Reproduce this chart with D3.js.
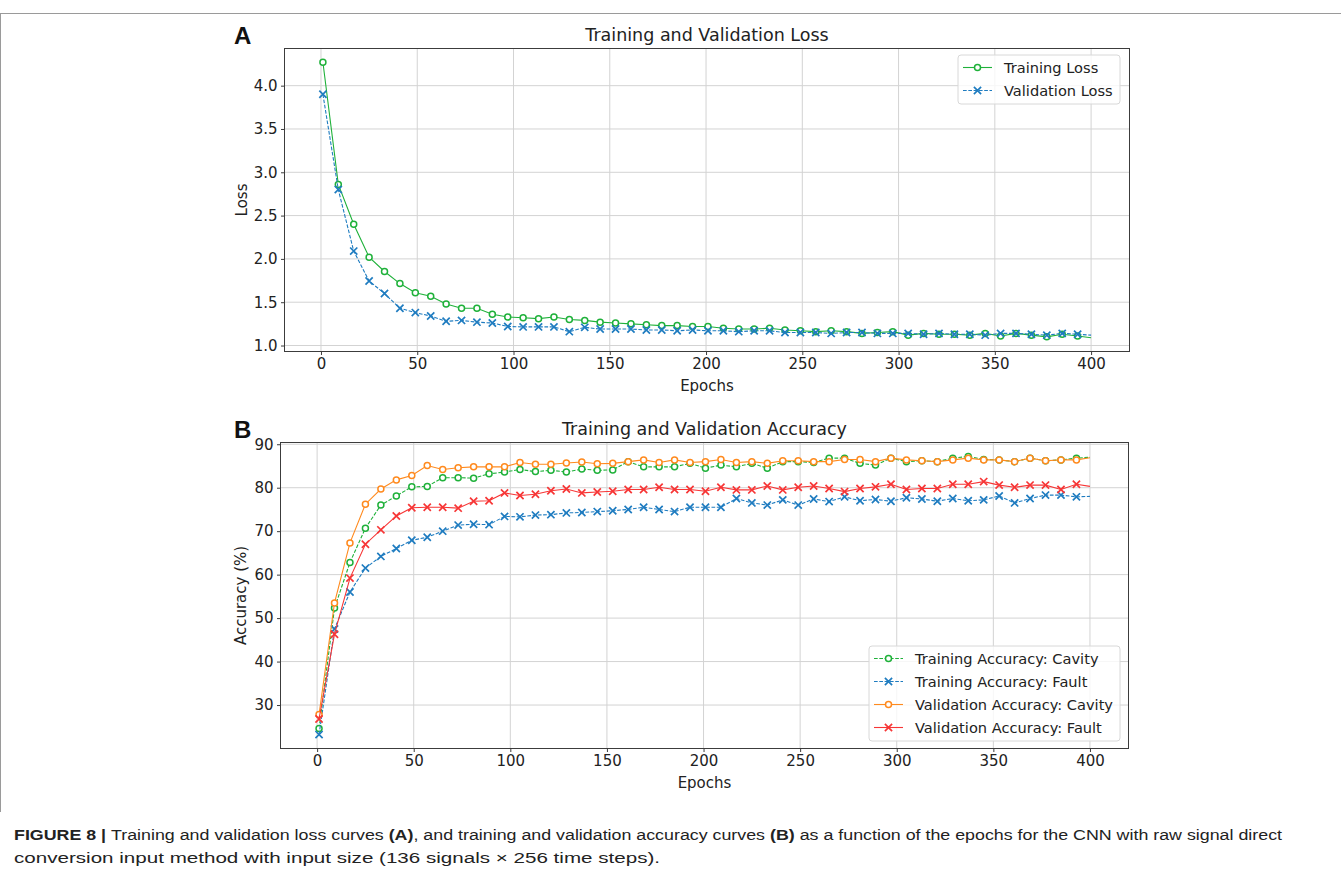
<!DOCTYPE html>
<html>
<head>
<meta charset="utf-8">
<script src="https://cdn.jsdelivr.net/npm/d3@7"></script>
<style>
  body { margin: 0; background: #fff; }
  svg { display: block; }
</style>
</head>
<body>
<svg id="fig" width="1341" height="872"></svg>
<script>
// epochs where values were read (markers every 8 epochs, plus the last epoch)
var epochs = d3.range(1, 394, 8).concat([400]);

// Panel A: loss
var trainLoss = [4.27, 2.86, 2.40, 2.02, 1.855, 1.715, 1.61, 1.57, 1.48, 1.43,
	1.43, 1.36, 1.33, 1.32, 1.31, 1.33, 1.30, 1.29, 1.27, 1.26,
	1.25, 1.24, 1.23, 1.23, 1.22, 1.22, 1.20, 1.19, 1.19, 1.20,
	1.18, 1.17, 1.16, 1.17, 1.16, 1.14, 1.15, 1.16, 1.12, 1.14,
	1.13, 1.13, 1.12, 1.14, 1.11, 1.14, 1.12, 1.10, 1.13, 1.11, 1.09];
var valLoss = [3.90, 2.80, 2.09, 1.745, 1.60, 1.43, 1.38, 1.34, 1.28, 1.29,
	1.27, 1.26, 1.22, 1.215, 1.215, 1.215, 1.16, 1.21, 1.19, 1.19,
	1.19, 1.18, 1.18, 1.17, 1.18, 1.17, 1.17, 1.16, 1.17, 1.17,
	1.15, 1.15, 1.15, 1.14, 1.15, 1.15, 1.14, 1.14, 1.14, 1.13,
	1.14, 1.13, 1.13, 1.12, 1.14, 1.14, 1.13, 1.12, 1.14, 1.13, 1.12];

// Panel B: accuracy (%)
var trainAccCavity = [24.6, 52.3, 62.8, 70.7, 76.0, 78.1, 80.2, 80.3, 82.3, 82.3,
	82.2, 83.2, 83.6, 84.2, 83.7, 84.0, 83.6, 84.3, 84.0, 84.1,
	86.0, 84.8, 84.8, 84.8, 85.6, 84.5, 85.2, 84.8, 85.6, 84.5,
	86.0, 86.0, 85.8, 86.8, 86.8, 85.6, 85.2, 86.8, 86.0, 86.2,
	86.0, 86.8, 87.2, 86.5, 86.4, 86.0, 86.8, 86.2, 86.4, 86.8, 87.0];
var trainAccFault = [23.2, 47.5, 56.0, 61.5, 64.2, 66.0, 67.9, 68.6, 70.0, 71.4,
	71.6, 71.5, 73.4, 73.3, 73.7, 73.8, 74.2, 74.3, 74.5, 74.7,
	75.0, 75.5, 75.0, 74.5, 75.5, 75.5, 75.5, 77.5, 76.5, 76.0,
	77.2, 76.0, 77.4, 76.8, 77.9, 77.0, 77.3, 76.9, 77.7, 77.4,
	76.9, 77.5, 77.0, 77.2, 78.1, 76.5, 77.5, 78.3, 78.3, 77.9, 78.0];
var valAccCavity = [27.8, 53.5, 67.3, 76.2, 79.7, 81.8, 82.8, 85.1, 84.2, 84.6,
	84.8, 84.8, 84.8, 85.8, 85.4, 85.4, 85.7, 85.9, 85.5, 85.6,
	86.0, 86.4, 85.8, 86.4, 85.8, 86.0, 86.5, 85.8, 86.0, 85.6,
	86.2, 86.2, 86.0, 86.0, 86.5, 86.5, 86.0, 86.8, 86.4, 86.2,
	86.0, 86.4, 86.8, 86.4, 86.4, 86.0, 86.8, 86.2, 86.4, 86.4, 86.9];
var valAccFault = [26.8, 46.3, 59.2, 67.0, 70.3, 73.5, 75.4, 75.5, 75.5, 75.3,
	76.9, 77.0, 78.8, 78.2, 78.5, 79.3, 79.7, 78.8, 79.0, 79.2,
	79.6, 79.6, 80.1, 79.6, 79.6, 79.2, 80.1, 79.5, 79.5, 80.4,
	79.5, 80.1, 80.4, 79.8, 79.1, 79.8, 80.2, 80.8, 79.6, 79.8,
	79.8, 80.8, 80.8, 81.4, 80.6, 80.1, 80.6, 80.6, 79.6, 80.8, 80.3];

var xTicks = [0, 50, 100, 150, 200, 250, 300, 350, 400];
var lossTicks = [1.0, 1.5, 2.0, 2.5, 3.0, 3.5, 4.0];
var accTicks = [30, 40, 50, 60, 70, 80, 90];

var svg = d3.select("#fig");
var FONT = "DejaVu Sans, sans-serif";
var SPINE = "#3c3c3c";

// frame of the figure image
svg.append("line").attr("x1", 0).attr("x2", 1341).attr("y1", 13.5).attr("y2", 13.5)
	.attr("stroke", "#9a9a9a").attr("stroke-width", 1);
svg.append("line").attr("x1", 0.5).attr("x2", 0.5).attr("y1", 13).attr("y2", 812)
	.attr("stroke", "#9a9a9a").attr("stroke-width", 1);

function padded(arrays) {
	var all = [].concat.apply([], arrays);
	var ext = d3.extent(all);
	var m = (ext[1] - ext[0]) * 0.05;
	return [ext[0] - m, ext[1] + m];
}

function panel(opt) {
	var g = svg.append("g");
	var x = d3.scaleLinear().domain([1 - 399 * 0.05, 400 + 399 * 0.05]).range([opt.left, opt.right]);
	var y = d3.scaleLinear().domain(padded(opt.series.map(function (s) { return s.values; })))
		.range([opt.bottom, opt.top]);

	// grid
	g.append("g").selectAll("line").data(opt.xTicks).join("line")
		.attr("x1", function (d) { return x(d); }).attr("x2", function (d) { return x(d); })
		.attr("y1", opt.top).attr("y2", opt.bottom)
		.attr("stroke", "#d3d3d3").attr("stroke-width", 1);
	g.append("g").selectAll("line").data(opt.yTicks).join("line")
		.attr("x1", opt.left).attr("x2", opt.right)
		.attr("y1", function (d) { return y(d); }).attr("y2", function (d) { return y(d); })
		.attr("stroke", "#d3d3d3").attr("stroke-width", 1);

	// series
	var clip = "clip" + opt.id;
	g.append("clipPath").attr("id", clip).append("rect")
		.attr("x", opt.left).attr("y", opt.top)
		.attr("width", opt.right - opt.left).attr("height", opt.bottom - opt.top);
	var line = d3.line().x(function (d) { return x(d[0]); }).y(function (d) { return y(d[1]); });
	opt.series.forEach(function (s) {
		var pts = epochs.map(function (e, i) { return [e, s.values[i]]; });
		var sg = g.append("g").attr("clip-path", "url(#" + clip + ")");
		sg.append("path").attr("d", line(pts)).attr("fill", "none")
			.attr("stroke", s.color).attr("stroke-width", 1.1)
			.attr("stroke-dasharray", s.dash ? "3.7,1.6" : null);
		var mk = pts.filter(function (p) { return (p[0] - 1) % 8 === 0; });
		drawMarkers(sg, mk.map(function (p) { return [x(p[0]), y(p[1])]; }), s);
	});

	// spines
	g.append("rect").attr("x", opt.left).attr("y", opt.top)
		.attr("width", opt.right - opt.left).attr("height", opt.bottom - opt.top)
		.attr("fill", "none").attr("stroke", SPINE).attr("stroke-width", 1);

	// axes
	var xa = g.append("g").attr("transform", "translate(0," + opt.bottom + ")")
		.call(d3.axisBottom(x).tickValues(opt.xTicks).tickSize(3.5).tickPadding(3.5).tickFormat(d3.format("d")));
	var ya = g.append("g").attr("transform", "translate(" + opt.left + ",0)")
		.call(d3.axisLeft(y).tickValues(opt.yTicks).tickSize(3.5).tickPadding(3.5).tickFormat(opt.yFormat));
	[xa, ya].forEach(function (a) {
		a.select(".domain").remove();
		a.selectAll("line").attr("stroke", SPINE);
		a.selectAll("text").attr("font-family", FONT).attr("font-size", 15).attr("fill", "#222");
	});

	// labels
	g.append("text").attr("x", (opt.left + opt.right) / 2).attr("y", opt.bottom + 39)
		.attr("text-anchor", "middle").attr("font-family", FONT).attr("font-size", 15).attr("fill", "#222")
		.text("Epochs");
	g.append("text").attr("transform", "translate(" + opt.yLabelX + "," + (opt.top + opt.bottom) / 2 + ") rotate(-90)")
		.attr("text-anchor", "middle").attr("font-family", FONT).attr("font-size", 15).attr("fill", "#222")
		.text(opt.yLabel);
	g.append("text").attr("x", (opt.left + opt.right) / 2).attr("y", opt.top - 8)
		.attr("text-anchor", "middle").attr("font-family", FONT).attr("font-size", 17.5).attr("fill", "#222")
		.text(opt.title);
	g.append("text").attr("x", 234).attr("y", opt.top - 5)
		.attr("font-family", "Liberation Sans, Arial, sans-serif").attr("font-weight", "bold")
		.attr("font-size", 24).attr("fill", "#111").text(opt.letter);

	// legend
	var L = opt.legend;
	g.append("rect").attr("x", L.x).attr("y", L.y).attr("width", L.w).attr("height", L.h)
		.attr("rx", 3).attr("fill", "#fff").attr("fill-opacity", 0.8)
		.attr("stroke", "#d8d8d8").attr("stroke-width", 1);
	opt.series.forEach(function (s, i) {
		var cy = L.y + L.first + i * L.step;
		g.append("line").attr("x1", L.x + 5).attr("x2", L.x + 34).attr("y1", cy).attr("y2", cy)
			.attr("stroke", s.color).attr("stroke-width", 1.1)
			.attr("stroke-dasharray", s.dash ? "3.7,1.6" : null);
		drawMarkers(g, [[L.x + 19.5, cy]], s);
		g.append("text").attr("x", L.x + 46).attr("y", cy + 5.5)
			.attr("font-family", FONT).attr("font-size", 14.6).attr("fill", "#222").text(s.name);
	});
}

function drawMarkers(sel, pts, s) {
	if (s.marker === "o") {
		sel.selectAll(null).data(pts).join("circle")
			.attr("cx", function (d) { return d[0]; }).attr("cy", function (d) { return d[1]; })
			.attr("r", 3).attr("fill", "#fff").attr("stroke", s.color).attr("stroke-width", 1.5);
	} else {
		var r = 3.6;
		sel.selectAll(null).data(pts).join("path")
			.attr("d", function (d) {
				return "M" + (d[0] - r) + "," + (d[1] - r) + "L" + (d[0] + r) + "," + (d[1] + r) +
					"M" + (d[0] - r) + "," + (d[1] + r) + "L" + (d[0] + r) + "," + (d[1] - r);
			})
			.attr("fill", "none").attr("stroke", s.color).attr("stroke-width", 1.7);
	}
}

var GREEN = "#1fb13a", BLUE = "#1f7cc0", ORANGE = "#ff8a1e", RED = "#f73636";

panel({
	id: "A", letter: "A", title: "Training and Validation Loss", yLabel: "Loss",
	left: 284.5, right: 1129.5, top: 48.5, bottom: 351.5, yLabelX: 247,
	xTicks: xTicks, yTicks: lossTicks, yFormat: d3.format(".1f"),
	series: [
		{name: "Training Loss", values: trainLoss, color: GREEN, dash: false, marker: "o"},
		{name: "Validation Loss", values: valLoss, color: BLUE, dash: true, marker: "x"}
	],
	legend: {x: 958, y: 55, w: 162, h: 49, first: 12.5, step: 23}
});

panel({
	id: "B", letter: "B", title: "Training and Validation Accuracy", yLabel: "Accuracy (%)",
	left: 280.5, right: 1128.5, top: 442.5, bottom: 748.5, yLabelX: 246,
	xTicks: xTicks, yTicks: accTicks, yFormat: d3.format("d"),
	series: [
		{name: "Training Accuracy: Cavity", values: trainAccCavity, color: GREEN, dash: true, marker: "o"},
		{name: "Training Accuracy: Fault", values: trainAccFault, color: BLUE, dash: true, marker: "x"},
		{name: "Validation Accuracy: Cavity", values: valAccCavity, color: ORANGE, dash: false, marker: "o"},
		{name: "Validation Accuracy: Fault", values: valAccFault, color: RED, dash: false, marker: "x"}
	],
	legend: {x: 869, y: 646, w: 251, h: 95, first: 12.5, step: 23}
});

// caption
var CAP = "Liberation Sans Narrow, Arial Narrow, Liberation Sans, sans-serif";
var c1 = svg.append("text").attr("x", 14).attr("y", 840)
	.attr("font-family", CAP).attr("font-size", 15.5).attr("fill", "#222")
	.attr("textLength", 1268).attr("lengthAdjust", "spacingAndGlyphs");
c1.append("tspan").attr("font-weight", "bold").text("FIGURE 8 | ");
c1.append("tspan").text("Training and validation loss curves ");
c1.append("tspan").attr("font-weight", "bold").text("(A)");
c1.append("tspan").text(", and training and validation accuracy curves ");
c1.append("tspan").attr("font-weight", "bold").text("(B)");
c1.append("tspan").text(" as a function of the epochs for the CNN with raw signal direct");
svg.append("text").attr("x", 14).attr("y", 863)
	.attr("font-family", CAP).attr("font-size", 15.5).attr("fill", "#222")
	.attr("textLength", 646).attr("lengthAdjust", "spacingAndGlyphs")
	.text("conversion input method with input size  (136 signals \u00d7 256 time steps).");
</script>
</body>
</html>
